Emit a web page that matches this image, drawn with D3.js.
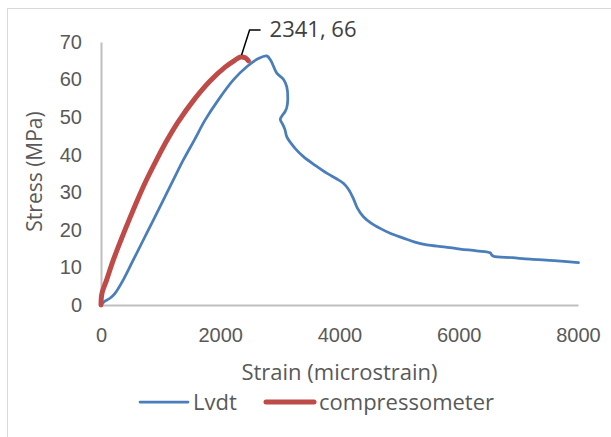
<!DOCTYPE html>
<html>
<head>
<meta charset="utf-8">
<script src="https://cdn.jsdelivr.net/npm/d3@7"></script>
<style>
  body { margin: 0; background: #fff; }
  svg { font-family: "Open Sans", Lato, sans-serif; }
</style>
</head>
<body>
<div id="wrapper"></div>
<script>
// data (strain in microstrain, stress in MPa)
const lvdtStrain = [0, 55, 150, 235, 374, 542, 710, 878, 1045, 1213, 1381, 1565, 1745, 1968, 2220, 2444, 2639, 2780, 2850, 2948, 3059, 3115, 3132, 3115, 3087, 3008, 3050, 3087, 3115, 3255, 3395, 3600, 3786, 3950, 4065, 4150, 4233, 4300, 4401, 4530, 4681, 4850, 5072, 5250, 5465, 5750, 6023, 6300, 6527, 6550, 6582, 6900, 7198, 7600, 8008]
const lvdtStress = [0, 0.9, 1.8, 3.1, 6.7, 12, 17.3, 22.6, 27.9, 33.3, 38.6, 43.9, 49.2, 54.6, 59.9, 63.4, 65.6, 66.3, 65, 61.7, 60.1, 58.1, 54.6, 52.5, 51.5, 49.4, 48, 46.6, 44.8, 41.7, 39.5, 37.1, 35.1, 33.6, 32.4, 30.8, 28.3, 25.8, 23.5, 21.8, 20.4, 19.1, 17.8, 16.8, 16.0, 15.5, 14.9, 14.4, 13.9, 13.4, 13.0, 12.6, 12.2, 11.8, 11.3]

const compStrain = [0, 15, 95, 207, 340, 475, 615, 766, 934, 1102, 1297, 1549, 1829, 2081, 2250, 2341, 2420, 2471]
const compStress = [0, 3, 6.7, 12, 17.5, 22.8, 28.1, 33.4, 38.7, 43.7, 48.8, 54.4, 59.6, 63.3, 65.2, 66, 65.8, 65.0]

const xTicks = [0, 2000, 4000, 6000, 8000]
const yTicks = [0, 10, 20, 30, 40, 50, 60, 70]
const seriesNames = ["Lvdt", "compressometer"]
const peakLabel = { strain: 2341, stress: 66 }

const dimensions = {
    width: 611,
    height: 437,
    margin: { top: 42, right: 33, bottom: 132, left: 101 },
}
dimensions.boundedWidth = dimensions.width - dimensions.margin.left - dimensions.margin.right
dimensions.boundedHeight = dimensions.height - dimensions.margin.top - dimensions.margin.bottom

const wrapper = d3.select("#wrapper")
    .append("svg")
    .attr("width", dimensions.width)
    .attr("height", dimensions.height)

// chart frame
wrapper.append("rect")
    .attr("x", 7.5)
    .attr("y", 8.5)
    .attr("width", 620)
    .attr("height", 450)
    .attr("fill", "#fff")
    .attr("stroke", "#D9D9D9")

const xScale = d3.scaleLinear()
    .domain([0, 8000])
    .range([dimensions.margin.left, dimensions.margin.left + dimensions.boundedWidth])
const yScale = d3.scaleLinear()
    .domain([0, 70])
    .range([dimensions.margin.top + dimensions.boundedHeight, dimensions.margin.top])

const textColor = "#595959"
const axisColor = "#BFBFBF"

// axes
const xAxis = wrapper.append("g")
    .attr("transform", `translate(0,${yScale(0)})`)
    .call(d3.axisBottom(xScale).tickValues(xTicks).tickSize(0).tickPadding(23).tickFormat(d3.format("d")))
xAxis.select(".domain").attr("stroke", axisColor).attr("stroke-width", 2)
xAxis.selectAll("text").attr("fill", textColor).style("font-size", "20px")

const yAxis = wrapper.append("g")
    .attr("transform", `translate(${xScale(0)},0)`)
    .call(d3.axisLeft(yScale).tickValues(yTicks).tickSize(0).tickPadding(19))
yAxis.select(".domain").attr("stroke", axisColor).attr("stroke-width", 2)
yAxis.selectAll("text").attr("fill", textColor).style("font-size", "20px")

wrapper.append("text")
    .attr("x", (xScale(0) + xScale(8000)) / 2)
    .attr("y", 380)
    .attr("text-anchor", "middle")
    .attr("fill", textColor)
    .style("font-size", "22px")
    .text("Strain (microstrain)")

wrapper.append("text")
    .attr("transform", `translate(42,${(yScale(0) + yScale(70)) / 2 - 2}) rotate(-90)`)
    .attr("text-anchor", "middle")
    .attr("fill", textColor)
    .style("font-size", "21px")
    .text("Stress (MPa)")

// lines
const lineGen = d3.line()
    .x(d => xScale(d[0]))
    .y(d => yScale(d[1]))
    .curve(d3.curveCatmullRom.alpha(0.5))

const lvdtData = d3.zip(lvdtStrain, lvdtStress)
const compData = d3.zip(compStrain, compStress)

wrapper.append("path")
    .datum(lvdtData)
    .attr("d", lineGen)
    .attr("fill", "none")
    .attr("stroke", "#4A7EBB")
    .attr("stroke-width", 2.75)
    .attr("stroke-linejoin", "round")
    .attr("stroke-linecap", "round")

wrapper.append("path")
    .datum(compData)
    .attr("d", lineGen)
    .attr("fill", "none")
    .attr("stroke", "#BE4B48")
    .attr("stroke-width", 5)
    .attr("stroke-linejoin", "round")
    .attr("stroke-linecap", "round")

// data label with leader line
const px = xScale(peakLabel.strain)
const py = yScale(peakLabel.stress)
wrapper.append("path")
    .attr("d", `M${px + 1},${py - 2} L${px + 9},${py - 27} L${px + 20},${py - 27}`)
    .attr("fill", "none")
    .attr("stroke", "#000")
    .attr("stroke-width", 1.5)

wrapper.append("text")
    .attr("x", px + 29)
    .attr("y", py - 20)
    .attr("fill", "#404040")
    .style("font-size", "22px")
    .text(`${peakLabel.strain}, ${peakLabel.stress}`)

// legend
const legendY = 402
const legend = wrapper.append("g")
const legendItems = [
    { name: seriesNames[0], color: "#4A7EBB", width: 2.75, x: 140 },
    { name: seriesNames[1], color: "#BE4B48", width: 5, x: 266 },
]
legend.selectAll("line")
    .data(legendItems)
    .join("line")
    .attr("x1", d => d.x)
    .attr("x2", d => d.x + 48)
    .attr("y1", legendY)
    .attr("y2", legendY)
    .attr("stroke", d => d.color)
    .attr("stroke-width", d => d.width)
    .attr("stroke-linecap", "round")
legend.selectAll("text")
    .data(legendItems)
    .join("text")
    .attr("x", d => d.x + 53)
    .attr("y", legendY + 8)
    .attr("fill", textColor)
    .style("font-size", "22px")
    .text(d => d.name)
</script>
</body>
</html>
